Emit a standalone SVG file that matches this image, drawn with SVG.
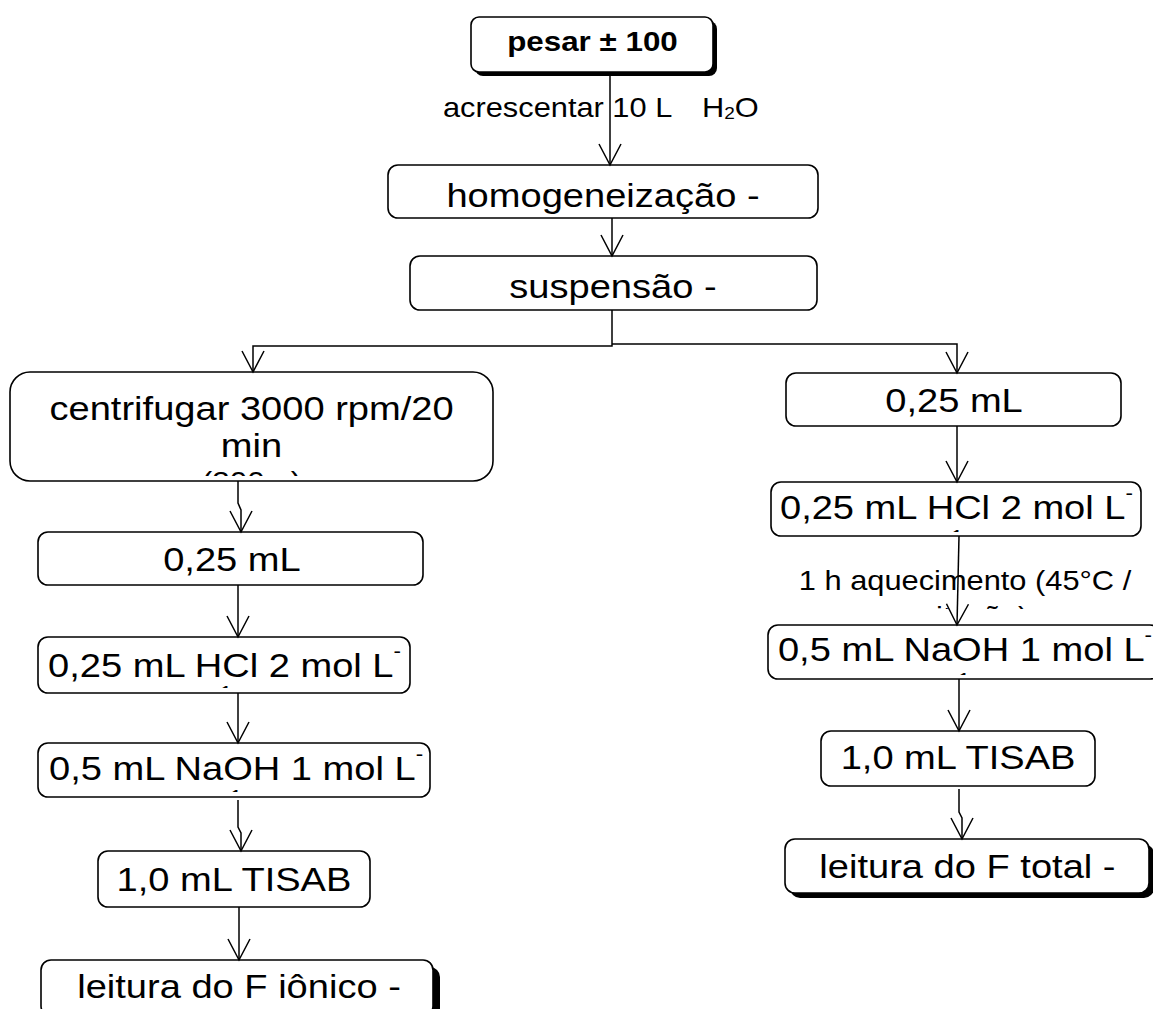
<svg xmlns="http://www.w3.org/2000/svg" width="1153" height="1009" viewBox="0 0 1153 1009">
<defs>
<style>
.box{fill:#fff;stroke:#000;stroke-width:1.6}
.sh{fill:#000}
.t{font-family:"Liberation Sans",Arial,sans-serif;font-size:34px;fill:#000}
.m{text-anchor:middle}
.lb{font-size:27.5px}
.bd{font-size:28px;font-weight:bold}
.c{fill:none;stroke:#000;stroke-width:1.5}
</style>
<marker id="ah" markerUnits="userSpaceOnUse" markerWidth="26" markerHeight="26" viewBox="-23 -13 25 26" refX="0" refY="0" orient="auto" overflow="visible">
<path d="M-21,-11 L0,0 L-21,11" fill="none" stroke="#000" stroke-width="1.5"/>
</marker>
<clipPath id="c-cent"><rect x="10" y="372" width="483" height="104"/></clipPath>
<clipPath id="c-hclL"><rect x="30" y="630" width="400" height="58"/></clipPath>
<clipPath id="c-naohL"><rect x="30" y="736" width="410" height="56"/></clipPath>
<clipPath id="c-hclR"><rect x="765" y="475" width="388" height="57"/></clipPath>
<clipPath id="c-naohR"><rect x="760" y="618" width="393" height="57"/></clipPath>
<clipPath id="c-aq"><rect x="780" y="555" width="373" height="54"/></clipPath>
</defs>
<rect width="1153" height="1009" fill="#fff"/>

<g id="n-pesar">
<rect class="sh" x="475" y="21" width="242" height="55" rx="8"/>
<rect class="box" x="471" y="17" width="242" height="55" rx="8"/>
<text class="t m bd" transform="scale(1.12,1)" x="529" y="51">pesar ± 100</text>
</g>

<g id="n-homog">
<rect class="box" x="388" y="165" width="430" height="53" rx="10"/>
<text class="t m" transform="scale(1.12,1)" x="538.4" y="207">homogeneização -</text>
</g>

<g id="n-susp">
<rect class="box" x="410" y="256" width="407" height="54" rx="10"/>
<text class="t m" transform="scale(1.12,1)" x="547.3" y="298">suspensão -</text>
</g>

<g id="n-centrif">
<rect class="box" x="10" y="372" width="483" height="109" rx="20"/>
<g clip-path="url(#c-cent)">
<text class="t m" transform="scale(1.12,1)" x="224.6" y="420"><tspan x="224.6" y="420">centrifugar 3000 rpm/20</tspan><tspan x="224.6" y="457">min</tspan><tspan x="224.6" y="491" font-size="28">(300 g)</tspan></text>
</g>
</g>

<g id="n-025L">
<rect class="box" x="38" y="532" width="385" height="53" rx="10"/>
<text class="t m" transform="scale(1.12,1)" x="207.1" y="571">0,25 mL</text>
</g>

<g id="n-hclL">
<rect class="box" x="38" y="637" width="372" height="56" rx="10"/>
<g clip-path="url(#c-hclL)">
<text class="t" transform="scale(1.12,1)" x="42.9" y="677">0,25 mL HCl 2 mol L<tspan font-size="20" dy="-19">-</tspan><tspan x="201.8" y="700" font-size="20" text-anchor="middle">1</tspan></text>
</g>
</g>

<g id="n-naohL">
<rect class="box" x="38" y="743" width="392" height="54" rx="10"/>
<g clip-path="url(#c-naohL)">
<text class="t" transform="scale(1.12,1)" x="43.75" y="780">0,5 mL NaOH 1 mol L<tspan font-size="20" dy="-19">-</tspan><tspan x="210.7" y="804" font-size="20" text-anchor="middle">1</tspan></text>
</g>
</g>

<g id="n-tisabL">
<rect class="box" x="98" y="851" width="272" height="56" rx="10"/>
<text class="t m" transform="scale(1.12,1)" x="208.9" y="891">1,0 mL TISAB</text>
</g>

<g id="n-leituraL">
<rect class="sh" x="48" y="967" width="392" height="56" rx="10"/>
<rect class="box" x="41" y="960" width="392" height="56" rx="10"/>
<text class="t m" transform="scale(1.12,1)" x="213.4" y="998">leitura do F iônico -</text>
</g>

<g id="n-025R">
<rect class="box" x="786" y="373" width="335" height="53" rx="10"/>
<text class="t m" transform="scale(1.12,1)" x="851.8" y="412">0,25 mL</text>
</g>

<g id="n-hclR">
<rect class="box" x="771" y="482" width="370" height="54" rx="10"/>
<g clip-path="url(#c-hclR)">
<text class="t" transform="scale(1.12,1)" x="696.4" y="519">0,25 mL HCl 2 mol L<tspan font-size="20" dy="-19">-</tspan><tspan x="854.5" y="544" font-size="20" text-anchor="middle">1</tspan></text>
</g>
</g>

<g id="n-naohR">
<rect class="box" x="768" y="625" width="392" height="54" rx="10"/>
<g clip-path="url(#c-naohR)">
<text class="t" transform="scale(1.12,1)" x="694.6" y="661">0,5 mL NaOH 1 mol L<tspan font-size="20" dy="-19">-</tspan><tspan x="860.7" y="687" font-size="20" text-anchor="middle">1</tspan></text>
</g>
</g>

<g id="n-tisabR">
<rect class="box" x="821" y="731" width="274" height="55" rx="10"/>
<text class="t m" transform="scale(1.12,1)" x="855.4" y="769">1,0 mL TISAB</text>
</g>

<g id="n-leituraR">
<rect class="sh" x="790" y="844" width="364" height="54" rx="10"/>
<rect class="box" x="785" y="839" width="364" height="54" rx="10"/>
<text class="t m" transform="scale(1.12,1)" x="863.8" y="878">leitura do F total -</text>
</g>

<g id="connectors">
<path class="c" d="M610,72 V165" marker-end="url(#ah)"/>
<path class="c" d="M612,218 V256" marker-end="url(#ah)"/>
<path class="c" d="M612,310 V346 H253 V372" marker-end="url(#ah)"/>
<path class="c" d="M612,344 H957 V373" marker-end="url(#ah)"/>
<path class="c" d="M238,481 V503 L241,510 V532" marker-end="url(#ah)"/>
<path class="c" d="M238,585 V637" marker-end="url(#ah)"/>
<path class="c" d="M238,693 V743" marker-end="url(#ah)"/>
<path class="c" d="M238,800 V827 L241,833 V851" marker-end="url(#ah)"/>
<path class="c" d="M239,907 V960" marker-end="url(#ah)"/>
<path class="c" d="M957,426 V482" marker-end="url(#ah)"/>
<path class="c" d="M959,536 L957,625" marker-end="url(#ah)"/>
<path class="c" d="M959,679 V731" marker-end="url(#ah)"/>
<path class="c" d="M959,789 V812 L962,818 V839" marker-end="url(#ah)"/>
<text class="t lb" transform="scale(1.12,1)" x="395.5" y="117">acrescentar 10 L<tspan x="626.8">H</tspan><tspan font-size="17" dy="2">2</tspan><tspan dy="-2">O</tspan></text>
<g clip-path="url(#c-aq)">
<text class="t lb m" transform="scale(1.12,1)" x="861.6" y="590"><tspan x="861.6" y="590">1 h aquecimento (45°C /</tspan><tspan x="861.6" y="626">agitação)</tspan></text>
</g>
</g>
</svg>
